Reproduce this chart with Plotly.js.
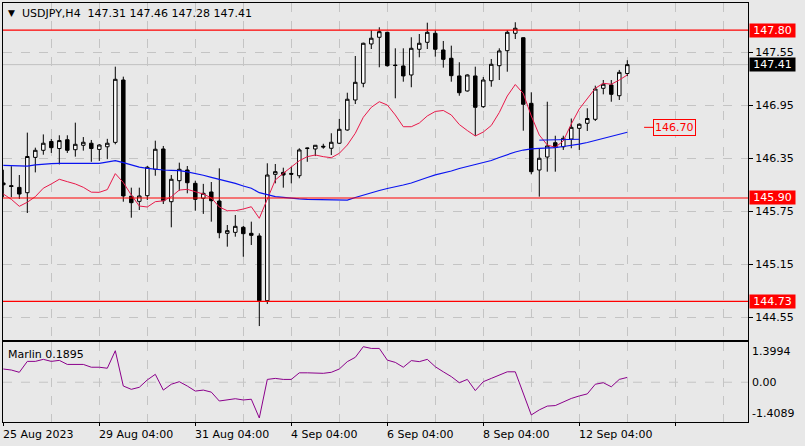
<!DOCTYPE html>
<html>
<head>
<meta charset="utf-8">
<script src="https://cdn.plot.ly/plotly-3.0.1.min.js"></script>
<style>
  html, body { margin: 0; padding: 0; background: #e8e8e8; }
  #chart { width: 805px; height: 446px; }
</style>
</head>
<body>
<div id="chart"></div>
<script>
// USDJPY H4 bars, index 0 = 25 Aug 2023
var openP = [146.07,146.04,146.02,145.96,146.36,146.44,146.54,146.46,146.56,146.447,
  146.497,146.52,146.45,146.48,146.53,147.236,145.92,145.862,145.926,146.225,
  146.455,145.858,146.096,146.217,146.066,145.897,145.968,145.866,145.50,145.511,
  145.568,145.50,145.47,144.737,146.168,146.19,146.178,146.152,146.46,146.455,
  146.486,146.463,146.52,146.67,147.01,147.199,147.644,147.72,147.776,147.405,
  147.395,147.293,147.584,147.663,147.765,147.576,147.482,147.282,147.112,147.282,
  146.934,147.228,147.398,147.568,147.765,147.715,146.972,146.217,146.364,146.526,
  146.48,146.568,146.689,146.746,146.791,147.142,147.18,147.058,147.31];
var highP = [146.22,146.26,146.16,146.64,146.47,146.62,146.57,146.61,146.61,146.753,
  146.59,146.557,146.51,146.57,147.387,147.274,146.017,146.017,146.262,146.549,
  146.489,146.16,146.30,146.262,146.096,146.06,146.081,146.236,145.594,145.707,
  145.583,145.632,145.50,146.293,146.285,146.243,146.254,146.463,146.47,146.50,
  146.514,146.633,146.795,147.092,147.508,147.659,147.80,147.833,147.783,147.595,
  147.595,147.72,147.757,147.885,147.80,147.678,147.625,147.437,147.30,147.387,
  147.27,147.474,147.595,147.80,147.89,147.72,147.097,146.46,146.99,146.605,
  146.605,146.80,146.746,146.916,147.172,147.236,147.236,147.35,147.46];
var lowP = [145.91,145.91,145.89,145.73,146.19,146.39,146.41,146.28,146.41,146.368,
  146.436,146.31,146.32,146.34,146.508,145.858,145.677,145.764,145.877,146.152,
  145.832,145.568,145.983,145.953,145.756,145.72,145.632,145.444,145.349,145.462,
  145.235,145.368,144.45,144.70,146.066,146.017,146.066,146.123,146.31,146.375,
  146.458,146.387,146.511,146.662,146.964,147.154,147.587,147.38,147.387,147.029,
  147.217,147.154,147.493,147.587,147.50,147.376,147.217,147.058,147.105,146.605,
  146.92,147.16,147.236,147.33,147.70,146.662,146.168,145.915,146.198,146.198,
  146.444,146.463,146.444,146.659,146.772,147.074,146.99,147.01,147.28];
var closeP = [146.05,146.03,145.945,146.37,146.44,146.52,146.47,146.55,146.44,146.508,
  146.531,146.46,146.50,146.52,147.244,145.923,145.847,145.923,146.248,146.452,
  145.869,146.112,146.225,146.073,145.885,145.953,145.869,145.507,145.53,145.579,
  145.496,145.477,144.737,146.16,146.198,146.16,146.17,146.444,146.465,146.497,
  146.478,146.531,146.678,147.018,147.21,147.652,147.709,147.783,147.398,147.40,
  147.282,147.595,147.652,147.776,147.584,147.47,147.285,147.092,147.293,146.927,
  147.236,147.414,147.565,147.776,147.822,146.961,146.198,146.35,146.489,146.474,
  146.576,146.70,146.735,146.80,147.134,147.188,147.074,147.323,147.41];

// moving averages (red = fast, blue = slow)
var maFast = [145.945,145.885,145.806,145.852,145.915,146.011,146.059,146.112,146.085,146.059,
  146.021,145.966,145.964,145.995,146.176,146.075,145.934,145.809,145.798,145.858,
  145.868,145.915,145.99,145.998,145.971,145.945,145.902,145.798,145.756,145.756,
  145.775,145.801,145.67,145.897,146.104,146.18,146.254,146.322,146.368,146.387,
  146.368,146.356,146.406,146.5,146.633,146.814,146.927,146.99,146.953,146.84,
  146.707,146.707,146.749,146.829,146.88,146.891,146.84,146.732,146.664,146.602,
  146.647,146.721,146.868,147.055,147.185,147.083,146.829,146.613,146.5,146.474,
  146.546,146.738,146.908,147.029,147.142,147.199,147.188,147.236,147.293];
var maSlow = [146.27,146.265,146.26,146.262,146.275,146.285,146.29,146.293,146.295,146.295,
  146.293,146.293,146.293,146.305,146.322,146.30,146.275,146.25,146.236,146.225,
  146.217,146.212,146.209,146.195,146.18,146.158,146.134,146.112,146.092,146.066,
  146.036,146.01,145.96,145.934,145.915,145.906,145.894,145.889,145.885,145.885,
  145.883,145.877,145.877,145.877,145.906,145.934,145.96,145.985,146.008,146.025,
  146.047,146.07,146.104,146.132,146.161,146.18,146.206,146.234,146.257,146.277,
  146.296,146.325,146.359,146.393,146.421,146.443,146.457,146.462,146.466,146.47,
  146.483,146.494,146.511,146.528,146.551,146.574,146.596,146.619,146.644];

// Marlin oscillator
var marlin = [0.52,0.48,0.39,0.82,0.82,0.90,0.82,0.86,0.70,0.70,
  0.70,0.59,0.59,0.55,1.24,-0.15,-0.28,-0.20,0.09,0.31,
  -0.31,-0.08,0.02,-0.15,-0.35,-0.31,-0.39,-0.74,-0.70,-0.65,
  -0.70,-0.67,-1.4089,0.11,0.15,0.11,0.11,0.37,0.37,0.37,
  0.35,0.39,0.52,0.81,0.98,1.3994,1.33,1.33,0.87,0.78,
  0.59,0.85,0.81,0.90,0.61,0.41,0.22,-0.02,0.11,-0.33,
  0.02,0.15,0.28,0.41,0.41,-0.44,-1.29,-1.09,-0.94,-0.92,
  -0.77,-0.64,-0.54,-0.46,-0.08,-0.02,-0.18,0.11,0.1895];

var barIdx = marlin.map(function(v, i) { return i });

var levels = [147.80, 145.90, 144.73];
var bidPrice = 147.41;
var target = 146.70;
var segIdx = [67, 72];
var segVal = [146.555, 146.565];

var priceTicks = [144.55, 145.15, 145.75, 146.35, 146.95, 147.55];
var dateIdx = [0, 12, 24, 36, 48, 60, 72];
var dateText = ['25 Aug 2023', '29 Aug 04:00', '31 Aug 04:00', '4 Sep 04:00',
  '6 Sep 04:00', '8 Sep 04:00', '12 Sep 04:00'];
var oscText = ['1.3994', '0.00', '-1.4089'];
var oscAt = [1.20, 0, -1.25];

var bg = '#e8e8e8';
var gridC = '#c4c4c4';
var fnt = 'DejaVu Sans, Verdana, sans-serif';

var candles = {
    type: 'candlestick',
    x: barIdx, open: openP, high: highP, low: lowP, close: closeP,
    xaxis: 'x', yaxis: 'y',
    increasing: {line: {color: '#000000', width: 1}, fillcolor: '#ffffff'},
    decreasing: {line: {color: '#000000', width: 1}, fillcolor: '#000000'},
    hoverinfo: 'skip'
};
var fast = {
    type: 'scatter', mode: 'lines', x: barIdx, y: maFast,
    xaxis: 'x', yaxis: 'y', line: {color: '#e8194a', width: 1}, hoverinfo: 'skip'
};
var slow = {
    type: 'scatter', mode: 'lines', x: barIdx, y: maSlow,
    xaxis: 'x', yaxis: 'y', line: {color: '#0a14f0', width: 1.2}, hoverinfo: 'skip'
};
var seg = {
    type: 'scatter', mode: 'lines', x: segIdx, y: segVal,
    xaxis: 'x', yaxis: 'y', line: {color: '#0a14f0', width: 1}, hoverinfo: 'skip'
};
var osc = {
    type: 'scatter', mode: 'lines', x: barIdx, y: marlin,
    xaxis: 'x2', yaxis: 'y2', line: {color: '#8b008b', width: 1}, hoverinfo: 'skip'
};

var shapes = levels.map(function(v) {
    return {type: 'line', xref: 'x domain', yref: 'y', x0: 0, x1: 1, y0: v, y1: v,
        line: {color: '#ff0000', width: 1.2}};
});
shapes.unshift({type: 'line', xref: 'x domain', yref: 'y', x0: 0, x1: 1, y0: bidPrice, y1: bidPrice,
    layer: 'below', line: {color: '#c0c0c0', width: 1}});
shapes.push({type: 'line', xref: 'x2 domain', yref: 'y2', x0: 0, x1: 1, y0: 0, y1: 0,
    layer: 'below', line: {color: gridC, width: 1, dash: 'dash'}});

var annotations = [];
annotations.push({xref: 'paper', yref: 'paper', x: 0, y: 1, xanchor: 'left', yanchor: 'middle',
    xshift: 3, yshift: -10, showarrow: false, text: '\u25BC',
    font: {family: fnt, size: 9, color: '#000000'}});
annotations.push({xref: 'paper', yref: 'paper', x: 0, y: 1, xanchor: 'left', yanchor: 'middle',
    xshift: 17, yshift: -10, showarrow: false,
    text: 'USDJPY,H4\u00a0\u00a0' + [openP[78], highP[78], lowP[78], closeP[78]].map(function(v) { return v.toFixed(2) }).join(' '),
    font: {family: fnt, size: 11, color: '#000000'}});
annotations.push({xref: 'paper', yref: 'y2 domain', x: 0, y: 1, xanchor: 'left', yanchor: 'middle',
    xshift: 3, yshift: -12, showarrow: false, text: 'Marlin ' + marlin[78].toFixed(4),
    font: {family: fnt, size: 11, color: '#000000'}});

levels.forEach(function(v) {
    annotations.push({xref: 'paper', yref: 'y', x: 1, y: v, xanchor: 'left', yanchor: 'middle',
        xshift: 1, showarrow: false, text: v.toFixed(2), bgcolor: '#ff0000',
        width: 45, height: 13, borderpad: 0,
        font: {family: fnt, size: 11, color: '#ffffff'}});
});
annotations.push({xref: 'paper', yref: 'y', x: 1, y: bidPrice, xanchor: 'left', yanchor: 'middle',
    xshift: 1, showarrow: false, text: bidPrice.toFixed(2), bgcolor: '#000000',
    width: 45, height: 13, borderpad: 0,
    font: {family: fnt, size: 11, color: '#ffffff'}});
annotations.push({xref: 'x', yref: 'y', x: 80.1, y: target, ax: 30, ay: 0,
    showarrow: true, arrowhead: 0, arrowwidth: 1, arrowcolor: '#ff0000',
    text: target.toFixed(2), bordercolor: '#ff0000', borderwidth: 1, borderpad: 1, bgcolor: bg,
    font: {family: fnt, size: 11, color: '#ff0000'}});

oscText.forEach(function(t, k) {
    annotations.push({xref: 'paper', yref: 'y2', x: 1, y: oscAt[k], xanchor: 'left', yanchor: 'middle',
        xshift: 2, showarrow: false, text: t,
        font: {family: fnt, size: 11, color: '#000000'}});
});
dateText.forEach(function(t, k) {
    annotations.push({xref: 'x2', yref: 'paper', x: dateIdx[k], y: 0, xanchor: 'left', yanchor: 'top',
        xshift: -2, yshift: -4, showarrow: false, text: t,
        font: {family: fnt, size: 11, color: '#000000'}});
});

var xRange = [-0.04, 93.09];
var layout = {
    width: 805, height: 446,
    margin: {l: 3, r: 57, t: 3, b: 24, pad: 0},
    paper_bgcolor: bg, plot_bgcolor: bg,
    showlegend: false, hovermode: false, dragmode: false,
    boxgap: 0.38,
    xaxis: {
        domain: [0, 1], anchor: 'y', range: xRange, type: 'linear',
        tickmode: 'linear', tick0: 0, dtick: 6, showticklabels: false, ticks: '',
        showgrid: true, gridcolor: gridC, griddash: 'dash', gridwidth: 1,
        zeroline: false, showline: true, mirror: true, linecolor: '#000000', linewidth: 1,
        rangeslider: {visible: false}, fixedrange: true
    },
    xaxis2: {
        domain: [0, 1], anchor: 'y2', range: xRange, type: 'linear',
        tickmode: 'linear', tick0: 0, dtick: 12, showticklabels: false,
        ticks: 'outside', ticklen: 3, tickcolor: '#000000',
        showgrid: true, gridcolor: gridC, griddash: 'dash', gridwidth: 1,
        minor: {tick0: 0, dtick: 6, showgrid: true, gridcolor: gridC, griddash: 'dash', ticks: ''},
        zeroline: false, showline: true, mirror: true, linecolor: '#000000', linewidth: 1,
        fixedrange: true
    },
    yaxis: {
        domain: [0.1957, 1], anchor: 'x', side: 'right', range: [144.292, 148.108],
        tickmode: 'array', tickvals: priceTicks,
        ticktext: priceTicks.map(function(v) { return v.toFixed(2) }),
        ticks: 'outside', ticklen: 4, tickcolor: '#000000',
        tickfont: {family: fnt, size: 11, color: '#000000'},
        showgrid: true, gridcolor: gridC, griddash: 'dash', gridwidth: 1,
        zeroline: false, showline: true, mirror: true, linecolor: '#000000', linewidth: 1,
        fixedrange: true
    },
    yaxis2: {
        domain: [0, 0.1909], anchor: 'x2', side: 'right', range: [-1.567, 1.583],
        showticklabels: false, ticks: '', showgrid: false,
        zeroline: false, showline: true, mirror: true, linecolor: '#000000', linewidth: 1,
        fixedrange: true
    },
    shapes: shapes,
    annotations: annotations
};

Plotly.newPlot('chart', [candles, fast, slow, seg, osc], layout, {
    displayModeBar: false, staticPlot: true
});
</script>
</body>
</html>
